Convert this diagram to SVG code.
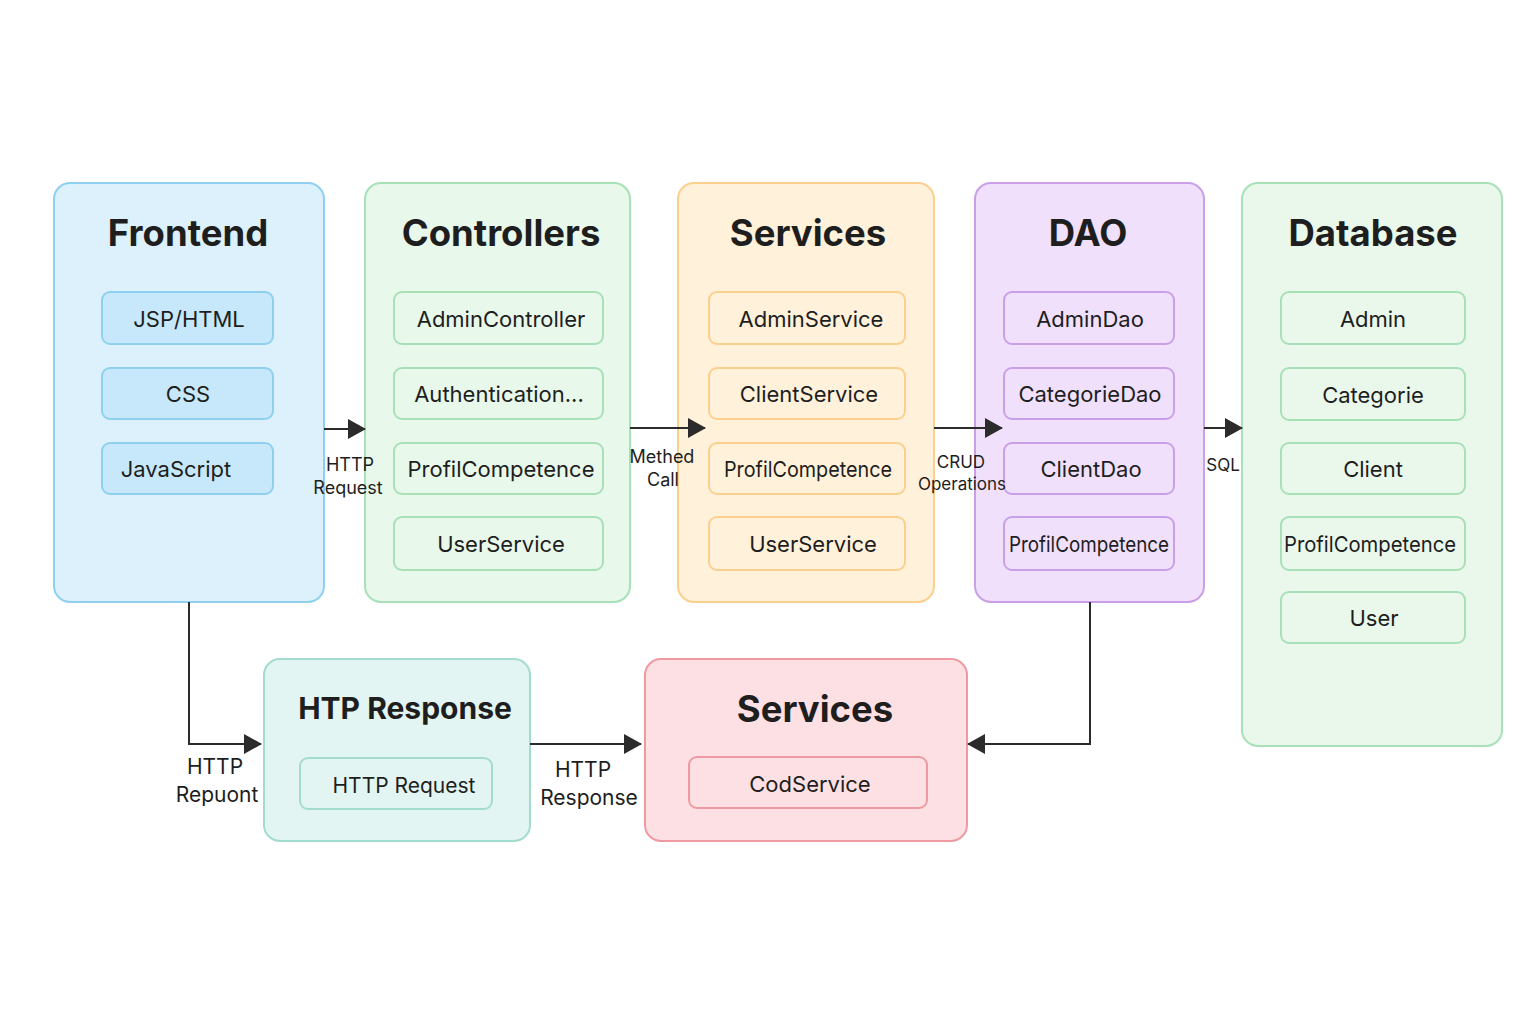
<svg xmlns="http://www.w3.org/2000/svg" width="1536" height="1024" viewBox="0 0 1536 1024">
<defs>
<marker id="ah" markerWidth="18" markerHeight="22" refX="17" refY="11" orient="auto" markerUnits="userSpaceOnUse">
<path d="M0,1 L18,11 L0,21 Z" fill="#2b2b2b"/>
</marker>
<style>
text{font-family:Inter,"Noto Sans","Liberation Sans",sans-serif;fill:#1e1e1e;text-anchor:middle}
.title{font-size:36.5px;font-weight:700}
.item{font-size:22px}
.lbl{font-size:18px}
.lbl2{font-size:21px}
.grp{stroke-width:2}
.in{stroke-width:2}
.conn{fill:none;stroke:#2b2b2b;stroke-width:2}
</style>
</defs>
<rect width="1536" height="1024" fill="#ffffff"/>

<g id="frontend">
<rect class="grp" x="54" y="183" width="270" height="419" rx="16" fill="#dcf1fb" stroke="#8fd0f0"/>
<text class="title" x="188" y="246">Frontend</text>
<g fill="#c6e8fa" stroke="#8fd0f0">
<rect class="in" x="102" y="292" width="171" height="52" rx="8"/>
<rect class="in" x="102" y="368" width="171" height="51" rx="8"/>
<rect class="in" x="102" y="443" width="171" height="51" rx="8"/>
</g>
<text class="item" x="189" y="327">JSP/HTML</text>
<text class="item" x="188" y="402">CSS</text>
<text class="item" x="176" y="477">JavaScript</text>
</g>

<g id="controllers">
<rect class="grp" x="365" y="183" width="265" height="419" rx="16" fill="#e8f8ea" stroke="#a8e0b8"/>
<text class="title" x="501" y="246">Controllers</text>
<g fill="#e8f8ea" stroke="#a8e0b8">
<rect class="in" x="394" y="292" width="209" height="52" rx="8"/>
<rect class="in" x="394" y="368" width="209" height="51" rx="8"/>
<rect class="in" x="394" y="443" width="209" height="51" rx="8"/>
<rect class="in" x="394" y="517" width="209" height="53" rx="8"/>
</g>
<text class="item" x="501" y="327">AdminController</text>
<text class="item" x="499" y="402">Authentication...</text>
<text class="item" x="501" y="477">ProfilCompetence</text>
<text class="item" x="501" y="552">UserService</text>
</g>

<g id="services">
<rect class="grp" x="678" y="183" width="256" height="419" rx="16" fill="#fff1da" stroke="#fbcf8e"/>
<text class="title" x="808" y="246">Services</text>
<g fill="#fff1da" stroke="#fbcf8e">
<rect class="in" x="709" y="292" width="196" height="52" rx="8"/>
<rect class="in" x="709" y="368" width="196" height="51" rx="8"/>
<rect class="in" x="709" y="443" width="196" height="51" rx="8"/>
<rect class="in" x="709" y="517" width="196" height="53" rx="8"/>
</g>
<text class="item" x="811" y="327">AdminService</text>
<text class="item" x="809" y="402">ClientService</text>
<text class="item" x="808" y="477" textLength="168" lengthAdjust="spacingAndGlyphs">ProfilCompetence</text>
<text class="item" x="813" y="552">UserService</text>
</g>

<g id="dao">
<rect class="grp" x="975" y="183" width="229" height="419" rx="16" fill="#f0e0fc" stroke="#c9a0e8"/>
<text class="title" x="1088" y="246">DAO</text>
<g fill="#f0e0fc" stroke="#c9a0e8">
<rect class="in" x="1004" y="292" width="170" height="52" rx="8"/>
<rect class="in" x="1004" y="368" width="170" height="51" rx="8"/>
<rect class="in" x="1004" y="443" width="170" height="51" rx="8"/>
<rect class="in" x="1004" y="517" width="170" height="53" rx="8"/>
</g>
<text class="item" x="1090" y="327">AdminDao</text>
<text class="item" x="1090" y="402">CategorieDao</text>
<text class="item" x="1091" y="477">ClientDao</text>
<text class="item" x="1089" y="552" textLength="160" lengthAdjust="spacingAndGlyphs">ProfilCompetence</text>
</g>

<g id="database">
<rect class="grp" x="1242" y="183" width="260" height="563" rx="16" fill="#eaf8ec" stroke="#a8e0b8"/>
<text class="title" x="1373" y="246">Database</text>
<g fill="#eaf8ec" stroke="#a8e0b8">
<rect class="in" x="1281" y="292" width="184" height="52" rx="8"/>
<rect class="in" x="1281" y="368" width="184" height="52" rx="8"/>
<rect class="in" x="1281" y="443" width="184" height="51" rx="8"/>
<rect class="in" x="1281" y="517" width="184" height="53" rx="8"/>
<rect class="in" x="1281" y="592" width="184" height="51" rx="8"/>
</g>
<text class="item" x="1373" y="327">Admin</text>
<text class="item" x="1373" y="403">Categorie</text>
<text class="item" x="1373" y="477">Client</text>
<text class="item" x="1370" y="552" textLength="172" lengthAdjust="spacingAndGlyphs">ProfilCompetence</text>
<text class="item" x="1374" y="626">User</text>
</g>

<g id="http-response">
<rect class="grp" x="264" y="659" width="266" height="182" rx="16" fill="#e2f5f2" stroke="#a3dccf"/>
<text x="405" y="719" style="font-size:30px;font-weight:700">HTP Response</text>
<rect class="in" x="300" y="758" width="192" height="51" rx="8" fill="#e2f5f2" stroke="#a3dccf"/>
<text x="404" y="793" style="font-size:21px">HTTP Request</text>
</g>

<g id="services-bottom">
<rect class="grp" x="645" y="659" width="322" height="182" rx="16" fill="#fde0e3" stroke="#ef9aa3"/>
<text class="title" x="815" y="722">Services</text>
<rect class="in" x="689" y="757" width="238" height="51" rx="8" fill="#fde0e3" stroke="#ef9aa3"/>
<text class="item" x="810" y="792">CodService</text>
</g>

<g id="connectors">
<path class="conn" d="M324,429 L365,429" marker-end="url(#ah)"/>
<path class="conn" d="M630,428 L705,428" marker-end="url(#ah)"/>
<path class="conn" d="M934,428 L1002,428" marker-end="url(#ah)"/>
<path class="conn" d="M1204,428 L1242,428" marker-end="url(#ah)"/>
<path class="conn" d="M189,602 L189,744 L261,744" marker-end="url(#ah)"/>
<path class="conn" d="M530,744 L641,744" marker-end="url(#ah)"/>
<path class="conn" d="M1090,602 L1090,744 L968,744" marker-end="url(#ah)"/>
<text class="lbl" x="350" y="471">HTTP</text>
<text class="lbl" x="348" y="494">Request</text>
<text class="lbl" x="662" y="463">Methed</text>
<text class="lbl" x="663" y="486">Call</text>
<text class="lbl" x="961" y="468" style="font-size:17px">CRUD</text>
<text class="lbl" x="962" y="490" style="font-size:17px">Operations</text>
<text class="lbl" x="1223" y="471" style="font-size:17px">SQL</text>
<text class="lbl2" x="215" y="774">HTTP</text>
<text class="lbl2" x="217" y="802">Repuont</text>
<text class="lbl2" x="583" y="777">HTTP</text>
<text class="lbl2" x="589" y="805">Response</text>
</g>
</svg>
